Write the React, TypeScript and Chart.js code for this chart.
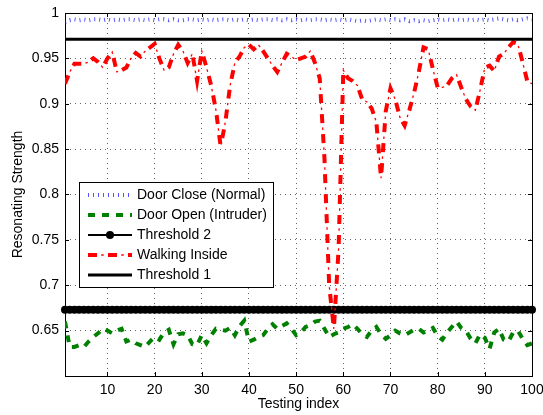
import { useEffect, useRef } from "react";
import { Chart, registerables } from "chart.js";

Chart.register(...registerables);

// ---------- data ----------
const testingIndex: number[] = Array.from({ length: 100 }, (_, i) => i + 1);
const xTickValues = [10, 20, 30, 40, 50, 60, 70, 80, 90, 100];
const yTickValues = [0.65, 0.7, 0.75, 0.8, 0.85, 0.9, 0.95, 1];

const doorClose = [
  0.990, 0.992, 0.993, 0.992, 0.993, 0.992, 0.993, 0.993, 0.992, 0.993,
  0.992, 0.993, 0.992, 0.993, 0.993, 0.992, 0.993, 0.992, 0.993, 0.992,
  0.993, 0.993, 0.992, 0.993, 0.992, 0.992, 0.993, 0.993, 0.992, 0.993,
  0.992, 0.993, 0.992, 0.993, 0.993, 0.992, 0.993, 0.992, 0.993, 0.992,
  0.993, 0.992, 0.993, 0.993, 0.992, 0.993, 0.992, 0.993, 0.992, 0.993,
  0.992, 0.993, 0.992, 0.993, 0.993, 0.992, 0.993, 0.992, 0.993, 0.992,
  0.993, 0.992, 0.991, 0.992, 0.991, 0.992, 0.993, 0.992, 0.993, 0.992,
  0.993, 0.992, 0.993, 0.991, 0.992, 0.991, 0.992, 0.991, 0.992, 0.993,
  0.992, 0.993, 0.992, 0.993, 0.992, 0.993, 0.992, 0.993, 0.992, 0.993,
  0.992, 0.993, 0.994, 0.993, 0.992, 0.993, 0.992, 0.993, 0.994, 0.993,
];

const doorOpen = [
  0.660, 0.632, 0.632, 0.634, 0.632, 0.638, 0.643, 0.647, 0.652, 0.650,
  0.647, 0.650, 0.652, 0.638, 0.640, 0.636, 0.634, 0.632, 0.638, 0.643,
  0.640, 0.648, 0.651, 0.635, 0.646, 0.647, 0.645, 0.635, 0.634, 0.645,
  0.636, 0.645, 0.652, 0.651, 0.650, 0.653, 0.645, 0.655, 0.661, 0.638,
  0.640, 0.643, 0.645, 0.652, 0.657, 0.652, 0.655, 0.658, 0.652, 0.645,
  0.648, 0.654, 0.656, 0.660, 0.661, 0.652, 0.643, 0.646, 0.648, 0.652,
  0.654, 0.657, 0.652, 0.646, 0.643, 0.650, 0.654, 0.646, 0.641, 0.645,
  0.650, 0.647, 0.645, 0.648, 0.651, 0.652, 0.648, 0.650, 0.653, 0.644,
  0.640, 0.648, 0.654, 0.660, 0.653, 0.650, 0.641, 0.636, 0.646, 0.642,
  0.630, 0.648, 0.652, 0.640, 0.638, 0.648, 0.650, 0.641, 0.634, 0.636,
];

const walkingInside = [
  0.922, 0.935, 0.944, 0.944, 0.944, 0.946, 0.950, 0.946, 0.940, 0.950,
  0.957, 0.935, 0.937, 0.940, 0.950, 0.956, 0.952, 0.958, 0.962, 0.966,
  0.950, 0.937, 0.940, 0.955, 0.965, 0.958, 0.945, 0.955, 0.925, 0.958,
  0.940, 0.920, 0.893, 0.853, 0.880, 0.920, 0.945, 0.952, 0.962, 0.965,
  0.960, 0.965, 0.958, 0.950, 0.942, 0.935, 0.945, 0.955, 0.952, 0.948,
  0.950, 0.952, 0.958, 0.945, 0.928, 0.840, 0.700, 0.652, 0.740, 0.937,
  0.928, 0.925, 0.920, 0.905, 0.902, 0.895, 0.880, 0.818, 0.892, 0.917,
  0.905, 0.885, 0.876, 0.893, 0.912, 0.935, 0.962, 0.960, 0.938, 0.918,
  0.918, 0.920, 0.928, 0.932, 0.918, 0.905, 0.897, 0.893, 0.915, 0.940,
  0.942, 0.936, 0.952, 0.955, 0.962, 0.968, 0.966, 0.946, 0.925, 0.922,
];

const threshold1Level = 0.971;
const threshold2Level = 0.673;

const legendOrder = [
  "Door Close (Normal)",
  "Door Open (Intruder)",
  "Threshold 2",
  "Walking Inside",
  "Threshold 1",
];

const FONT = '"Liberation Sans", Arial, Helvetica, sans-serif';

// dash-dot pattern of "Walking Inside": thick dashes + thin dots in the gaps
const RED = "#ff0000";
const RED_DASH = [9, 11];
const RED_DOT = [2.5, 17.5];
const RED_DOT_OFFSET = 6.75;

// ---------- plugins ----------
const framePlugin = {
  id: "matlabFrame",
  beforeDatasetsDraw(chart: any) {
    const { ctx, chartArea, scales } = chart;
    const l = Math.round(chartArea.left);
    const r = Math.round(chartArea.right);
    const t = Math.round(chartArea.top);
    const b = Math.round(chartArea.bottom);
    ctx.save();
    ctx.strokeStyle = "#000";
    ctx.lineWidth = 1;
    ctx.setLineDash([]);
    ctx.strokeRect(l + 0.5, t + 0.5, r - l, b - t);
    ctx.beginPath();
    xTickValues.forEach((v) => {
      const px = Math.round(scales.x.getPixelForValue(v)) + 0.5;
      ctx.moveTo(px, b);
      ctx.lineTo(px, b - 4);
      ctx.moveTo(px, t);
      ctx.lineTo(px, t + 4);
    });
    yTickValues.forEach((v) => {
      const py = Math.round(scales.y.getPixelForValue(v)) + 0.5;
      ctx.moveTo(l, py);
      ctx.lineTo(l + 4, py);
      ctx.moveTo(r, py);
      ctx.lineTo(r - 4, py);
    });
    ctx.stroke();
    ctx.restore();
  },
};

const insideLegendPlugin = {
  id: "insideLegend",
  afterDatasetsDraw(chart: any) {
    const { ctx, chartArea } = chart;
    const x0 = Math.round(chartArea.left) + 14;
    const y0 = Math.round(chartArea.top) + 169;
    const w = 194;
    const h = 105;
    ctx.save();
    ctx.fillStyle = "#fff";
    ctx.fillRect(x0, y0, w, h);
    ctx.strokeStyle = "#000";
    ctx.lineWidth = 1;
    ctx.setLineDash([]);
    ctx.strokeRect(x0 + 0.5, y0 + 0.5, w, h);
    legendOrder.forEach((label, k) => {
      const layers = chart.data.datasets.filter((d: any) => d.label === label || d.legendOf === label);
      if (!layers.length) return;
      const y = y0 + 13 + k * 20;
      const xs = x0 + 9;
      const xe = x0 + 53;
      layers.forEach((ds: any) => {
        ctx.setLineDash(ds.borderDash || []);
        ctx.lineDashOffset = ds.borderDashOffset || 0;
        ctx.strokeStyle = ds.borderColor;
        ctx.lineWidth = ds.borderWidth;
        ctx.lineCap = "butt";
        ctx.beginPath();
        ctx.moveTo(xs, y);
        ctx.lineTo(xe, y);
        ctx.stroke();
        ctx.setLineDash([]);
        ctx.lineDashOffset = 0;
        if (ds.pointRadius > 0) {
          ctx.fillStyle = ds.pointBackgroundColor;
          ctx.beginPath();
          ctx.arc((xs + xe) / 2, y, ds.pointRadius, 0, Math.PI * 2);
          ctx.fill();
        }
      });
      ctx.fillStyle = "#000";
      ctx.font = `14px ${FONT}`;
      ctx.textBaseline = "middle";
      ctx.textAlign = "left";
      ctx.fillText(label, x0 + 58, y);
    });
    ctx.restore();
  },
};

export default function App() {
  const canvasRef = useRef<HTMLCanvasElement | null>(null);

  useEffect(() => {
    document.body.style.margin = "0";
    const canvas = canvasRef.current;
    if (!canvas) return;

    const toPoints = (vals: number[]) => testingIndex.map((x, i) => ({ x, y: vals[i] }));
    const constPoints = (level: number) => testingIndex.map((x) => ({ x, y: level }));

    const chart = new Chart(canvas, {
      type: "line",
      data: {
        datasets: [
          {
            label: "Threshold 1",
            data: constPoints(threshold1Level),
            borderColor: "#000",
            borderWidth: 3,
            pointRadius: 0,
          },
          {
            label: "Walking Inside",
            data: toPoints(walkingInside),
            borderColor: RED,
            borderWidth: 4,
            borderDash: RED_DASH,
            pointRadius: 0,
          },
          {
            label: "Walking Inside (dots)",
            legendOf: "Walking Inside",
            data: toPoints(walkingInside),
            borderColor: RED,
            borderWidth: 1.3,
            borderDash: RED_DOT,
            borderDashOffset: RED_DOT_OFFSET,
            pointRadius: 0,
          },
          {
            label: "Threshold 2",
            data: constPoints(threshold2Level),
            borderColor: "#000",
            borderWidth: 2,
            pointRadius: 4,
            pointBackgroundColor: "#000",
            pointBorderWidth: 0,
            clip: false,
          },
          {
            label: "Door Open (Intruder)",
            data: toPoints(doorOpen),
            borderColor: "#008000",
            borderWidth: 4,
            borderDash: [7, 7],
            pointRadius: 0,
          },
          {
            label: "Door Close (Normal)",
            data: toPoints(doorClose),
            borderColor: "rgba(30,30,255,0.75)",
            borderWidth: 4,
            borderDash: [1, 4],
            pointRadius: 0,
          },
        ] as any,
      },
      options: {
        responsive: false,
        animation: false,
        devicePixelRatio: 1,
        events: [],
        layout: { padding: { left: 0, right: 11, top: 13, bottom: 0 } },
        plugins: {
          legend: { display: false },
          tooltip: { enabled: false },
        },
        elements: { line: { tension: 0 } },
        scales: {
          x: {
            type: "linear",
            min: 1,
            max: 100,
            afterBuildTicks: (s: any) => {
              s.ticks = xTickValues.map((value) => ({ value }));
            },
            afterFit: (s: any) => {
              s.height = 39;
              s.paddingLeft = 0;
              s.paddingRight = 0;
            },
            grid: { color: "rgba(0,0,0,0.6)", lineWidth: 1, drawTicks: false },
            border: { display: false, dash: [1, 4] },
            ticks: {
              color: "#000",
              font: { family: FONT, size: 14 },
              padding: 6,
              maxRotation: 0,
              autoSkip: false,
              callback: (v: any) => String(v),
            },
            title: {
              display: true,
              text: "Testing index",
              color: "#000",
              font: { family: FONT, size: 14 },
              padding: { top: 0, bottom: 2 },
            },
          },
          y: {
            type: "linear",
            min: 0.6,
            max: 1,
            afterBuildTicks: (s: any) => {
              s.ticks = yTickValues.map((value) => ({ value }));
            },
            afterFit: (s: any) => {
              s.width = 65;
              s.paddingTop = 0;
              s.paddingBottom = 0;
            },
            grid: { color: "rgba(0,0,0,0.6)", lineWidth: 1, drawTicks: false },
            border: { display: false, dash: [1, 4] },
            ticks: {
              color: "#000",
              font: { family: FONT, size: 14 },
              padding: 6,
              autoSkip: false,
              callback: (v: any) => String(v),
            },
            title: {
              display: true,
              text: "Resonating Strength",
              color: "#000",
              font: { family: FONT, size: 14 },
              padding: { top: 10, bottom: 0 },
            },
          },
        },
      } as any,
      plugins: [framePlugin, insideLegendPlugin],
    });

    return () => chart.destroy();
  }, []);

  return (
    <canvas
      ref={canvasRef}
      width={543}
      height={415}
      style={{ display: "block", width: 543, height: 415 }}
    />
  );
}
